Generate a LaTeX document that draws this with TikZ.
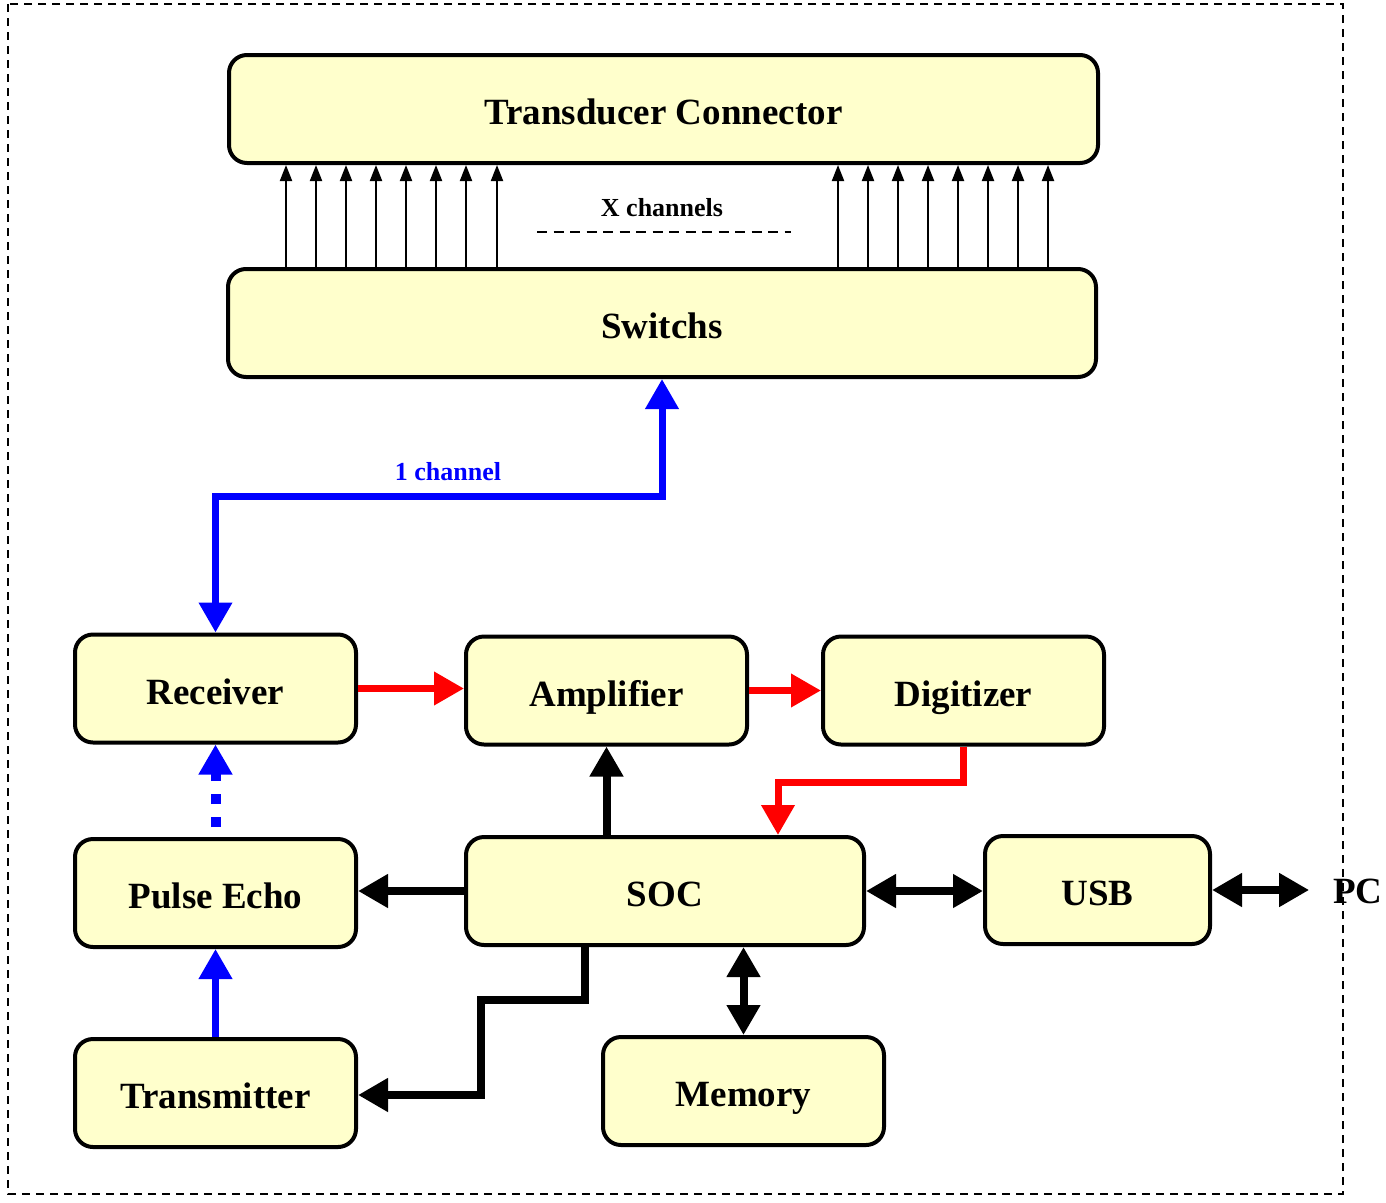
\documentclass[tikz,border=0pt]{standalone}
\usepackage{fontspec}
\setmainfont{Liberation Serif}
\usetikzlibrary{arrows.meta,calc}
\definecolor{boxfill}{RGB}{255,255,204}
\begin{document}
\begin{tikzpicture}[x=1pt,y=-1pt,
  blk/.style={draw=black, line width=4pt, fill=boxfill, rounded corners=18pt,
    minimum width=#1, minimum height=108pt, inner sep=0pt,
    text height=33pt, text depth=1.5pt,
    font=\fontsize{37}{42}\selectfont\bfseries},
  lbl/.style={inner sep=0pt, font=\fontsize{26}{30}\selectfont\bfseries},
  chanarrow/.style={line width=2pt, -{Triangle[width=12pt,length=16pt]}},
  bigtip/.tip={Triangle[width=32pt,length=30pt]},
  conn/.style={line width=7pt},
  blueconn/.style={conn, draw={rgb,255:red,0;green,0;blue,255}},
  redconn/.style={conn, draw=red, -bigtip},
  blackconn/.style={line width=8pt, draw=black}
]
\useasboundingbox (0,0) rectangle (1386,1202);

% outer frame
\draw[line width=1.6pt, dash pattern=on 8pt off 6pt] (8,4) rectangle (1343,1194);

% blocks
\node[blk=869pt] (tc)   at (663.5,109)  {Transducer Connector};
\node[blk=868pt] (sw)   at (662,323)    {Switchs};
\node[blk=281pt] (recv) at (215.5,688.5) {Receiver};
\node[blk=281pt] (amp)  at (606.5,690.5) {Amplifier};
\node[blk=281pt] (dig)  at (963.5,690.5) {Digitizer};
\node[blk=281pt] (pe)   at (215.5,893)  {Pulse Echo};
\node[blk=398pt] (soc)  at (665,891)    {SOC};
\node[blk=225pt] (usb)  at (1097.5,890) {USB};
\node[blk=281pt] (tx)   at (215.5,1093) {Transmitter};
\node[blk=281pt] (mem)  at (743.5,1091) {Memory};
\node[inner sep=0pt, font=\fontsize{37}{42}\selectfont\bfseries] (pc) at (1358,891) {PC};

% channel lines from the switches to the connector
\foreach \x in {286,316,346,376,406,436,466,497,838,868,898,928,958,988,1018,1048}{
  \coordinate (ch) at (\x,0);
  \draw[chanarrow] (ch |- sw.north) -- (ch |- tc.south);
}
\node[lbl] (xch) at (662,208) {X channels};
\coordinate (dl) at (537,232);
\coordinate (dr) at (791,232);
\draw[line width=2pt, dash pattern=on 10pt off 6.5pt] (dl) -- (dr);

% single channel between switches and receiver
\coordinate (bl) at (0,496);
\draw[blueconn, bigtip-bigtip] (sw.south) -- (sw.south |- bl) -| (recv.north);
\node[lbl, text={rgb,255:red,0;green,0;blue,255}] (onech) at (448,472) {1 channel};

% signal chain
\draw[redconn] (recv.east) -- (recv.east -| amp.west);
\draw[redconn] (amp.east) -- (dig.west);
\coordinate (rd) at (778,782);
\draw[redconn] (dig.south) |- (rd) -- (rd |- soc.north);

% control from the SOC
\draw[blackconn, -bigtip] (soc.north -| amp.south) -- (amp.south);
\draw[blackconn, -bigtip] (soc.west) -- (soc.west -| pe.east);
\draw[blackconn, bigtip-bigtip] (soc.east) -- (soc.east -| usb.west);
\draw[blackconn, bigtip-bigtip, shorten >=24pt] (usb.east) -- (usb.east -| pc.west);
\draw[blackconn, bigtip-bigtip] (soc.south -| mem.north) -- (mem.north);
\coordinate (k1) at (585,1000);
\coordinate (k2) at (481,1095);
\draw[blackconn, -bigtip] (soc.south -| k1) -- (k1) -| (k2) -- (k2 -| tx.east);

% pulse path
\draw[blueconn, -bigtip] (tx.north) -- (pe.south);
\draw[blueconn, line width=10pt, dash pattern=on 10pt off 13pt, dash phase=13pt, -bigtip] (pe.north) -- (recv.south);
\end{tikzpicture}
\end{document}
